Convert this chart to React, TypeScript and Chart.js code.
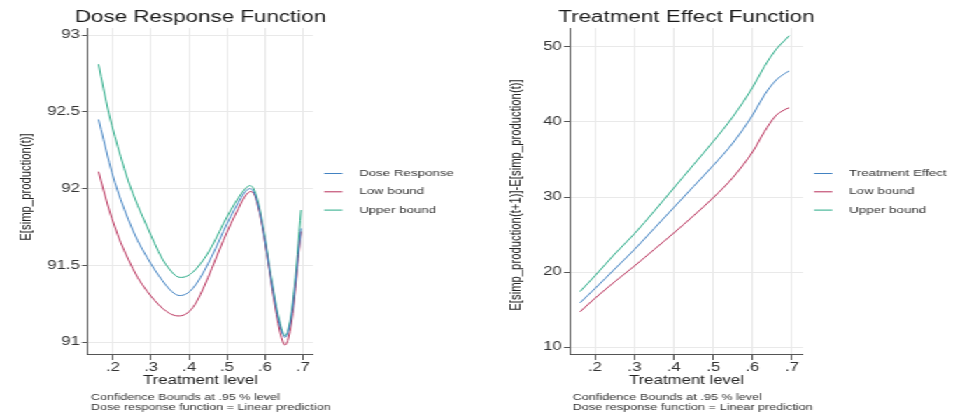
import React, { useEffect, useRef } from 'react';
import { Chart, registerables } from 'chart.js';

Chart.register(...registerables);

// ---------- data ----------
const doseT = [0.162, 0.175, 0.19, 0.205, 0.22, 0.24, 0.265, 0.29, 0.31, 0.33, 0.35, 0.37, 0.39, 0.41, 0.43, 0.45, 0.47, 0.49, 0.51, 0.53, 0.545, 0.56, 0.57, 0.58, 0.59, 0.6, 0.61, 0.62, 0.63, 0.64, 0.647, 0.653, 0.66, 0.67, 0.68, 0.69, 0.695];
const doseResponse = [92.45, 92.32, 92.17, 92.04, 91.93, 91.8, 91.66, 91.55, 91.47, 91.4, 91.34, 91.305, 91.31, 91.35, 91.42, 91.51, 91.61, 91.72, 91.82, 91.91, 91.97, 92.0, 91.98, 91.91, 91.8, 91.66, 91.5, 91.35, 91.21, 91.1, 91.05, 91.03, 91.06, 91.17, 91.38, 91.63, 91.74];
const doseLow = [92.11, 91.99, 91.86, 91.75, 91.65, 91.54, 91.42, 91.33, 91.27, 91.22, 91.185, 91.17, 91.18, 91.225, 91.31, 91.42, 91.54, 91.66, 91.77, 91.87, 91.94, 91.98, 91.97, 91.9, 91.79, 91.65, 91.49, 91.33, 91.18, 91.06, 91.0, 90.98, 91.01, 91.13, 91.35, 91.61, 91.72];
const doseUpper = [92.81, 92.65, 92.48, 92.34, 92.21, 92.05, 91.89, 91.75, 91.64, 91.54, 91.47, 91.425, 91.425, 91.455, 91.51, 91.58, 91.67, 91.77, 91.86, 91.94, 91.99, 92.02, 92.0, 91.93, 91.82, 91.68, 91.52, 91.37, 91.23, 91.12, 91.06, 91.04, 91.07, 91.2, 91.42, 91.72, 91.86];

const effectT = [0.162, 0.2, 0.25, 0.3, 0.35, 0.4, 0.45, 0.5, 0.55, 0.6, 0.63, 0.66, 0.68, 0.693];
const treatmentEffect = [15.9, 17.8, 20.4, 23.0, 25.8, 28.6, 31.4, 34.2, 37.2, 40.9, 43.6, 45.6, 46.4, 46.8];
const effectLow = [14.7, 16.5, 18.7, 20.8, 23.0, 25.2, 27.5, 29.9, 32.6, 36.0, 38.7, 40.9, 41.6, 41.9];
const effectUpper = [17.4, 19.5, 22.4, 25.1, 28.1, 31.2, 34.3, 37.4, 40.7, 44.6, 47.4, 49.7, 50.8, 51.5];

const xTicks = [0.2, 0.3, 0.4, 0.5, 0.6, 0.7];
const doseYTicks = [91, 91.5, 92, 92.5, 93];
const effectYTicks = [10, 20, 30, 40, 50];
const notes = ['Confidence Bounds at .95 % level', 'Dose response function = Linear prediction'];

// ---------- style ----------
const FONT = '"Liberation Sans", Arial, Helvetica, sans-serif';
const H = 417;
const PANEL_W = 480;
const CW = 343;
const SCALE = PANEL_W / CW;
const BLUE = '#4282c2';
const RED = '#b8305a';
const GREEN = '#28aa86';
const GRID = '#e9e9e9';
const AXIS = '#555555';
const TEXT = '#333333';

Chart.defaults.font.family = FONT;

type Series = { label: string; data: number[]; color: string };
type PanelSpec = {
  title: string;
  yTitle: string;
  yTitleX: number;
  yTitleY: number;
  t: number[];
  series: Series[];
  yMin: number;
  yMax: number;
  yTicks: number[];
  xMin: number;
  xMax: number;
  plotLeft: number;
  plotRight: number;
};

function annotPlugin(spec: PanelSpec) {
  return {
    id: 'annot',
    afterDraw(chart: any) {
      const { ctx, chartArea: a } = chart;
      ctx.save();
      // title
      ctx.fillStyle = '#1a1a1a';
      ctx.font = `16px ${FONT}`;
      ctx.textAlign = 'center';
      ctx.textBaseline = 'alphabetic';
      ctx.fillText(spec.title, (a.left + a.right) / 2, 21.5);
      // y axis title
      ctx.save();
      ctx.translate(spec.yTitleX, spec.yTitleY);
      ctx.rotate(-Math.PI / 2);
      ctx.font = `11.3px ${FONT}`;
      ctx.fillStyle = '#222';
      ctx.textAlign = 'center';
      ctx.textBaseline = 'middle';
      ctx.fillText(spec.yTitle, 0, 0);
      ctx.restore();
      // legend
      ctx.font = `9.5px ${FONT}`;
      ctx.textAlign = 'left';
      ctx.textBaseline = 'middle';
      chart.data.datasets.forEach((ds: any, i: number) => {
        const y = 173.5 + i * 18.3;
        ctx.strokeStyle = ds.borderColor;
        ctx.lineWidth = 1;
        ctx.beginPath();
        ctx.moveTo(a.right + 8, y);
        ctx.lineTo(a.right + 21, y);
        ctx.stroke();
        ctx.fillStyle = TEXT;
        ctx.fillText(ds.label, a.right + 33, y);
      });
      // notes
      ctx.font = `9px ${FONT}`;
      ctx.textBaseline = 'alphabetic';
      ctx.fillStyle = TEXT;
      notes.forEach((n, i) => ctx.fillText(n, a.left + 2, 400 + i * 9.5));
      ctx.restore();
    },
  };
}

function makeConfig(spec: PanelSpec): any {
  return {
    type: 'line',
    data: {
      datasets: spec.series.map((s) => ({
        label: s.label,
        data: spec.t.map((x, i) => ({ x, y: s.data[i] })),
        borderColor: s.color,
        backgroundColor: s.color,
        borderWidth: 1,
        pointRadius: 0,
        fill: false,
        tension: 0.35,
      })),
    },
    options: {
      responsive: false,
      animation: false,
      devicePixelRatio: 1,
      layout: { padding: { left: 0, top: 28, right: CW - spec.plotRight, bottom: 0 } },
      plugins: {
        legend: { display: false },
        title: { display: false },
        tooltip: { enabled: false },
      },
      scales: {
        x: {
          type: 'linear',
          min: spec.xMin,
          max: spec.xMax,
          afterBuildTicks: (s: any) => {
            s.ticks = xTicks.map((v) => ({ value: v }));
          },
          afterFit: (s: any) => {
            s.height = H - 354;
          },
          ticks: {
            callback: (v: any) => Number(v).toFixed(1).replace(/^0/, ''),
            font: { size: 12 },
            color: TEXT,
            padding: 0.5,
            maxRotation: 0,
            autoSkip: false,
          },
          grid: { color: GRID, tickColor: AXIS, tickLength: 6 },
          border: { color: AXIS, width: 1 },
          title: {
            display: true,
            text: 'Treatment level',
            font: { size: 12 },
            color: '#222',
            padding: { top: 0, bottom: 29.3 },
          },
        },
        y: {
          type: 'linear',
          min: spec.yMin,
          max: spec.yMax,
          afterBuildTicks: (s: any) => {
            s.ticks = spec.yTicks.map((v) => ({ value: v }));
          },
          afterFit: (s: any) => {
            s.width = spec.plotLeft;
          },
          ticks: {
            callback: (v: any) => String(v),
            font: { size: 12 },
            color: TEXT,
            padding: 1.5,
            autoSkip: false,
          },
          grid: { color: GRID, tickColor: AXIS, tickLength: 4.3 },
          border: { color: AXIS, width: 1 },
          title: { display: false },
        },
      },
    },
    plugins: [annotPlugin(spec)],
  };
}

const doseSpec: PanelSpec = {
  title: 'Dose Response Function',
  yTitle: 'E[simp_production(t)]',
  yTitleX: 19.1,
  yTitleY: 187,
  t: doseT,
  series: [
    { label: 'Dose Response', data: doseResponse, color: BLUE },
    { label: 'Low bound', data: doseLow, color: RED },
    { label: 'Upper bound', data: doseUpper, color: GREEN },
  ],
  yMin: 90.922,
  yMax: 93.046,
  yTicks: doseYTicks,
  xMin: 0.1342,
  xMax: 0.7263,
  plotLeft: 88 / SCALE,
  plotRight: 313 / SCALE,
};

const effectSpec: PanelSpec = {
  title: 'Treatment Effect Function',
  yTitle: 'E[simp_production(t+1)]-E[simp_production(t)]',
  yTitleX: 25.7,
  yTitleY: 195,
  t: effectT,
  series: [
    { label: 'Treatment Effect', data: treatmentEffect, color: BLUE },
    { label: 'Low bound', data: effectLow, color: RED },
    { label: 'Upper bound', data: effectUpper, color: GREEN },
  ],
  yMin: 9.07,
  yMax: 52.53,
  yTicks: effectYTicks,
  xMin: 0.1365,
  xMax: 0.728,
  plotLeft: 90 / SCALE,
  plotRight: 323 / SCALE,
};

function Panel({ left, spec }: { left: number; spec: PanelSpec }) {
  const ref = useRef<HTMLCanvasElement>(null);
  useEffect(() => {
    const chart = new Chart(ref.current as HTMLCanvasElement, makeConfig(spec));
    return () => chart.destroy();
  }, [spec]);
  return (
    <div
      style={{
        position: 'absolute',
        left,
        top: 0,
        width: CW,
        height: H,
        transform: `scaleX(${SCALE})`,
        transformOrigin: '0 0',
        background: '#fff',
      }}
    >
      <canvas ref={ref} width={CW} height={H} style={{ display: 'block' }} />
    </div>
  );
}

export default function App() {
  return (
    <div style={{ position: 'absolute', left: 0, top: 0, width: 960, height: H, background: '#fff' }}>
      <Panel left={0} spec={doseSpec} />
      <Panel left={PANEL_W} spec={effectSpec} />
    </div>
  );
}
